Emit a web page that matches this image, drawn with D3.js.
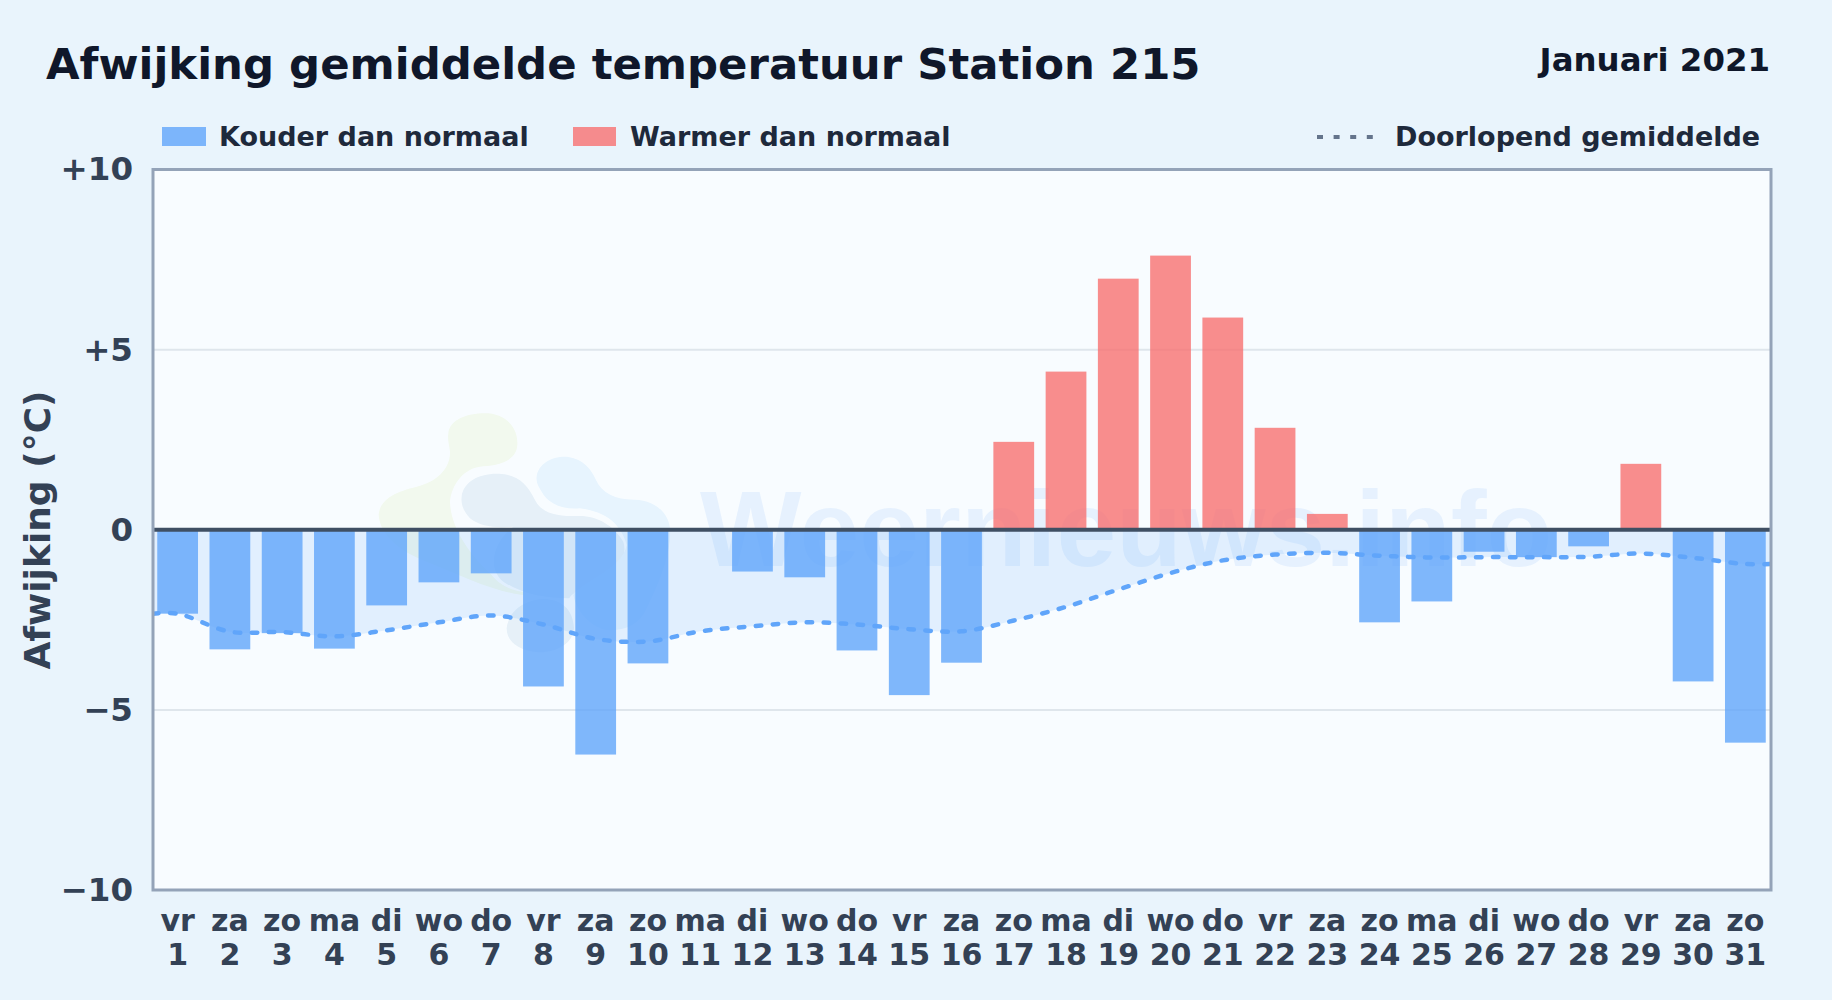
<!DOCTYPE html>
<html>
<head>
<meta charset="utf-8">
<title>Afwijking gemiddelde temperatuur Station 215</title>
<script src="https://cdn.jsdelivr.net/npm/d3@7"></script>
<style>
    html, body { margin: 0; padding: 0; background: #e9f4fc; }
    svg { display: block; }
    text { font-family: "DejaVu Sans", sans-serif; font-weight: bold; }
</style>
</head>
<body>
<div id="chart"></div>
<script>
// ----- data ----- //
var dagNamen = ["vr", "za", "zo", "ma", "di", "wo", "do", "vr", "za", "zo", "ma", "di", "wo", "do", "vr", "za",
    "zo", "ma", "di", "wo", "do", "vr", "za", "zo", "ma", "di", "wo", "do", "vr", "za", "zo"];
var dagNummers = [1, 2, 3, 4, 5, 6, 7, 8, 9, 10, 11, 12, 13, 14, 15, 16,
    17, 18, 19, 20, 21, 22, 23, 24, 25, 26, 27, 28, 29, 30, 31];
var afwijking = [-2.33, -3.32, -2.87, -3.30, -2.10, -1.46, -1.21, -4.35, -6.24, -3.71, 0, -1.16, -1.32, -3.35, -4.59, -3.69,
    2.44, 4.39, 6.97, 7.61, 5.89, 2.83, 0.44, -2.57, -1.99, -0.61, -0.76, -0.46, 1.83, -4.21, -5.91];
var gemiddelde = [-2.33, -2.83, -2.84, -2.96, -2.79, -2.57, -2.38, -2.63, -3.03, -3.10, -2.82, -2.68, -2.57, -2.63, -2.76, -2.82,
    -2.52, -2.14, -1.66, -1.20, -0.85, -0.69, -0.64, -0.72, -0.77, -0.76, -0.76, -0.75, -0.66, -0.78, -0.95];
var yTicks = [-10, -5, 0, 5, 10];

var width = 1832, height = 1000;
var left = 153, right = 1771, top_ = 169.5, bottom = 890;

var svg = d3.select("#chart")
    .append("svg")
    .attr("width", width)
    .attr("height", height);

// ----- scales ----- //
var x = d3.scaleBand()
    .domain(dagNummers)
    .range([left - 1.5, right + 0.5])
    .paddingInner(0.22)
    .paddingOuter(0.11);

var y = d3.scaleLinear()
    .domain([-10, 10])
    .range([bottom, top_]);

var midden = function (d) { return x(d) + x.bandwidth() / 2; };

// ----- background + plot area ----- //
var defs = svg.append("defs");
defs.append("filter").attr("id", "zacht")
    .append("feGaussianBlur").attr("stdDeviation", 1.5);
defs.append("clipPath").attr("id", "clip")
    .append("rect")
    .attr("x", left).attr("y", top_)
    .attr("width", right - left).attr("height", bottom - top_);

svg.append("rect")
    .attr("width", width).attr("height", height)
    .attr("fill", "#e9f4fc");

svg.append("rect")
    .attr("x", left).attr("y", top_)
    .attr("width", right - left).attr("height", bottom - top_)
    .attr("fill", "#f8fcff");

// ----- watermark ----- //
var logo = svg.append("g")
    .attr("clip-path", "url(#clip)")
    .append("g")
    .attr("transform", "translate(360,395) scale(0.3333)")
    .attr("filter", "url(#zacht)");

logo.append("path")
    .attr("fill", "#f2f9ee")
    .attr("d", "M265,115 C270,70 330,52 385,55 C440,60 475,100 472,150 C470,195 420,212 370,214 C310,218 275,270 270,320 C272,400 330,480 395,540 C420,575 470,590 490,590 L490,600 C400,590 300,540 200,500 C120,470 60,420 56,360 C60,310 110,290 170,275 C230,262 272,220 270,170 C268,150 262,135 265,115 Z");
logo.append("path")
    .attr("fill", "#e6f0f8")
    .attr("d", "M305,305 C310,260 360,232 425,237 C480,242 505,275 525,315 C545,355 590,365 650,363 C710,360 760,390 790,440 C805,490 770,530 710,560 C660,580 630,600 628,610 C560,610 490,600 430,560 C380,520 400,440 460,395 C410,400 360,395 330,370 C312,350 302,330 305,305 Z M440,700 C445,650 490,615 550,612 C600,612 640,640 642,700 C640,745 590,772 540,772 C485,770 440,745 440,700 Z");
logo.append("path")
    .attr("fill", "#e7f4fe")
    .attr("d", "M530,245 C535,205 580,182 625,186 C670,192 695,225 708,255 C725,295 770,315 825,314 C880,315 925,350 930,400 C935,470 900,560 860,640 C840,690 790,710 740,705 C690,695 650,650 640,600 C660,560 790,520 800,450 C785,390 740,350 660,340 C600,345 560,320 545,290 C535,275 528,262 530,245 Z");

svg.append("text")
    .attr("x", 700)
    .attr("y", 566)
    .attr("font-size", 107.5)
    .style("font-family", "'Liberation Sans', sans-serif")
    .attr("fill", "#3b82f6")
    .attr("fill-opacity", 0.09)
    .text("Weernieuws.info");

// ----- grid ----- //
svg.append("g")
    .selectAll("line")
    .data(yTicks.filter(function (d) { return d === 5 || d === -5; }))
    .enter()
    .append("line")
    .attr("x1", left).attr("x2", right)
    .attr("y1", function (d) { return y(d); })
    .attr("y2", function (d) { return y(d); })
    .attr("stroke", "#dfe6ec")
    .attr("stroke-width", 2);

// ----- running mean: area + line, carried flat to both frame edges ----- //
var punten = [{ x: left, v: gemiddelde[0] }]
    .concat(gemiddelde.map(function (v, i) { return { x: midden(dagNummers[i]), v: v }; }))
    .concat([{ x: right, v: gemiddelde[gemiddelde.length - 1] }]);

var vlak = d3.area()
    .x(function (d) { return d.x; })
    .y0(y(0))
    .y1(function (d) { return y(d.v); })
    .curve(d3.curveCatmullRom);

var lijn = d3.line()
    .x(function (d) { return d.x; })
    .y(function (d) { return y(d.v); })
    .curve(d3.curveCatmullRom);

svg.append("path")
    .datum(punten)
    .attr("clip-path", "url(#clip)")
    .attr("fill", "#60a5fa")
    .attr("fill-opacity", 0.15)
    .attr("d", vlak);

// ----- bars ----- //
svg.append("g")
    .selectAll("rect")
    .data(afwijking)
    .enter()
    .append("rect")
    .attr("x", function (d, i) { return x(dagNummers[i]); })
    .attr("y", function (d) { return y(Math.max(d, 0)); })
    .attr("width", x.bandwidth())
    .attr("height", function (d) { return Math.abs(y(d) - y(0)); })
    .attr("fill", function (d) { return d < 0 ? "#60a5fa" : "#f87171"; })
    .attr("fill-opacity", 0.8);

svg.append("path")
    .datum(punten)
    .attr("clip-path", "url(#clip)")
    .attr("fill", "none")
    .attr("stroke", "#60a5fa")
    .attr("stroke-width", 4.5)
    .attr("stroke-linecap", "round")
    .attr("stroke-dasharray", "5.5 11.5")
    .attr("d", lijn);

// ----- zero line + frame ----- //
svg.append("line")
    .attr("x1", left).attr("x2", right)
    .attr("y1", y(0)).attr("y2", y(0))
    .attr("stroke", "#3f4f63")
    .attr("stroke-width", 4);

svg.append("rect")
    .attr("x", left).attr("y", top_)
    .attr("width", right - left).attr("height", bottom - top_)
    .attr("fill", "none")
    .attr("stroke", "#94a3b8")
    .attr("stroke-width", 3);

// ----- axes ----- //
var asY = svg.append("g")
    .attr("transform", "translate(" + left + ",0)")
    .call(d3.axisLeft(y)
        .tickValues(yTicks)
        .tickSize(0)
        .tickPadding(20)
        .tickFormat(function (d) {
            if (d > 0) return "+" + d;
            if (d < 0) return "\u2212" + Math.abs(d);
            return "0";
        }));

var asDag = svg.append("g")
    .attr("transform", "translate(0,931)")
    .call(d3.axisBottom(x)
        .tickSize(0)
        .tickPadding(0)
        .tickFormat(function (d, i) { return dagNamen[i]; }));

var asNummer = svg.append("g")
    .attr("transform", "translate(0,965)")
    .call(d3.axisBottom(x)
        .tickSize(0)
        .tickPadding(0));

[asY, asDag, asNummer].forEach(function (as) {
    as.select(".domain").remove();
    as.attr("font-family", null);
    as.attr("font-size", null);
    as.selectAll("text")
        .attr("font-size", 30)
        .attr("fill", "#334155");
});
asY.selectAll("text").attr("font-size", 32.5);
asDag.selectAll("text").attr("dy", 0).attr("y", 0);
asNummer.selectAll("text").attr("dy", 0).attr("y", 0);

svg.append("text")
    .attr("transform", "translate(50,530) rotate(-90)")
    .attr("text-anchor", "middle")
    .attr("font-size", 36)
    .attr("fill", "#334155")
    .text("Afwijking (\u00B0C)");

// ----- titles ----- //
svg.append("text")
    .attr("x", 46).attr("y", 79)
    .attr("font-size", 43.4)
    .attr("fill", "#0f172a")
    .text("Afwijking gemiddelde temperatuur Station 215");

svg.append("text")
    .attr("x", 1770).attr("y", 71)
    .attr("text-anchor", "end")
    .attr("font-size", 32.4)
    .attr("fill", "#0f172a")
    .text("Januari 2021");

// ----- legend ----- //
var legenda = svg.append("g").attr("font-size", 27).attr("fill", "#1e293b");

legenda.append("rect").attr("x", 162).attr("y", 127).attr("width", 44).attr("height", 19)
    .attr("fill", "#60a5fa").attr("fill-opacity", 0.8);
legenda.append("text").attr("x", 219).attr("y", 146).text("Kouder dan normaal");

legenda.append("rect").attr("x", 573).attr("y", 127).attr("width", 43).attr("height", 19)
    .attr("fill", "#f87171").attr("fill-opacity", 0.8);
legenda.append("text").attr("x", 630).attr("y", 146).text("Warmer dan normaal");

legenda.append("line").attr("x1", 1317).attr("x2", 1373).attr("y1", 137).attr("y2", 137)
    .attr("stroke", "#64748b").attr("stroke-width", 4).attr("stroke-dasharray", "6 10.6");
legenda.append("text").attr("x", 1395).attr("y", 146).text("Doorlopend gemiddelde");
</script>
</body>
</html>
